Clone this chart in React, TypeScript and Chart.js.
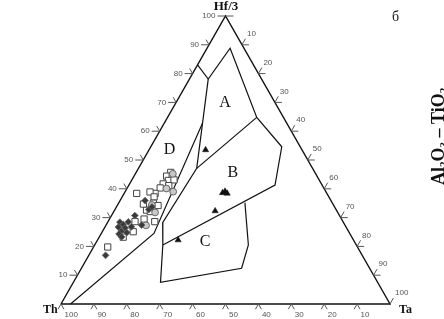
import React, { useEffect, useRef } from "react";
import { Chart, registerables } from "chart.js";

Chart.register(...registerables);

// Ternary compositions, percent: [Hf/3, Th, Ta]
const triangles = [
  [53.5, 29.3, 17.2],
  [38.6, 31.6, 29.8],
  [39.1, 30.6, 30.3],
  [38.4, 30.3, 31.3],
  [32.3, 37.0, 30.7],
  [22.2, 53.3, 24.5],
];

const squares = [
  [45.7, 43.8, 10.5], [44.4, 45.7, 9.9], [44.6, 43.9, 11.5], [42.9, 45.9, 11.2],
  [43.1, 44.1, 12.8], [41.7, 48.1, 10.2], [41.1, 46.7, 12.2], [40.3, 49.7, 10.0],
  [38.4, 52.2, 9.4], [38.9, 53.5, 7.6], [37.2, 53.1, 9.7], [35.0, 54.4, 10.6],
  [34.2, 53.4, 12.4], [32.6, 57.7, 9.7], [32.1, 56.8, 11.1], [28.6, 57.2, 14.2],
  [38.4, 57.8, 3.8], [29.5, 60.0, 10.5], [28.6, 63.2, 8.2], [25.1, 65.5, 9.4],
  [23.2, 69.5, 7.3], [19.8, 75.9, 4.3], [34.7, 57.6, 7.7],
];

const circles = [
  [45.2, 43.4, 11.4], [39.0, 46.4, 14.6], [31.8, 55.5, 12.7],
  [27.3, 60.5, 12.2], [34.4, 55.2, 10.4], [40.1, 47.9, 12.0],
];

const diamonds = [
  [35.9, 56.5, 7.6], [32.8, 56.9, 10.3], [30.7, 62.2, 7.1], [28.5, 65.3, 6.2],
  [28.4, 67.9, 3.7], [27.6, 67.3, 5.1], [26.7, 69.2, 4.1], [26.4, 67.3, 6.3],
  [25.3, 69.0, 5.7], [24.3, 70.2, 5.5], [24.8, 67.6, 7.6], [26.8, 65.2, 8.0],
  [23.3, 69.9, 6.8], [16.9, 78.0, 5.1], [27.4, 61.8, 10.8], [33.7, 55.5, 10.8],
];

// Field boundaries (polylines), [Hf/3, Th, Ta]
const boundaryOuter = [
  [83.0, 17.0, 0.0], [78.1, 16.2, 5.7], [88.8, 4.2, 7.0], [64.8, 8.1, 27.1],
  [54.6, 5.6, 39.8], [41.3, 14.3, 44.4], [20.5, 58.8, 20.7],
];
const boundaryAB = [[64.8, 8.1, 27.1], [47.1, 35.2, 17.7]];
const boundaryInner = [
  [78.1, 16.2, 5.7], [47.1, 35.2, 17.7], [28.2, 55.0, 16.8], [20.5, 58.8, 20.7],
  [7.5, 66.0, 26.5], [12.4, 38.9, 48.7], [20.5, 32.8, 46.7], [35.2, 26.5, 38.3],
];
const boundaryD = [[62.8, 25.6, 11.6], [24.5, 59.5, 16.0], [0.0, 97.1, 2.9]];
const frame = [[0, 100, 0], [0, 0, 100], [100, 0, 0], [0, 100, 0]];

const fieldLabels = ["A", "B", "C", "D"];
const fieldLabelPos = [
  [69.9, 15.2, 14.9],
  [45.4, 25.1, 29.5],
  [21.6, 45.4, 33.0],
  [53.7, 40.2, 6.1],
];

const tickValues = [10, 20, 30, 40, 50, 60, 70, 80, 90];

const toXY = (p: number[]) => ({ x: p[2] + p[0] / 2, y: p[0] });

const ternaryPlugin = {
  id: "ternaryDecor",
  afterDraw(chart: any) {
    const { ctx } = chart;
    const sx = chart.scales.x;
    const sy = chart.scales.y;
    const P = (hf: number, ta: number) => [sx.getPixelForValue(ta + hf / 2), sy.getPixelForValue(hf)];
    const tick = (hf: number, ta: number, dhf: number, dta: number, len: number) => {
      const [x0, y0] = P(hf, ta);
      const [x1, y1] = P(hf + dhf, ta + dta);
      const dx = x1 - x0, dy = y1 - y0;
      const n = Math.hypot(dx, dy);
      ctx.beginPath();
      ctx.moveTo(x0, y0);
      ctx.lineTo(x0 + (dx / n) * len, y0 + (dy / n) * len);
      ctx.stroke();
    };
    ctx.save();
    ctx.strokeStyle = "#555";
    ctx.lineWidth = 1;
    ctx.fillStyle = "#555";
    ctx.font = '8px "Liberation Sans", Arial, sans-serif';

    // left edge: Hf/3
    ctx.textAlign = "right";
    ctx.textBaseline = "middle";
    for (const v of tickValues) {
      tick(v, 0, 0, -1, 8);
      tick(v, 0, 1, -1, 6);
      const [x0, y0] = P(v, 0);
      ctx.fillText(String(v), x0 - 10, y0);
    }
    // apex
    tick(100, 0, 0, -1, 8);
    tick(100, 0, 0, 1, 8);
    {
      const [x0, y0] = P(100, 0);
      ctx.fillText("100", x0 - 10, y0);
    }
    // bottom: Th
    ctx.textAlign = "left";
    for (const v of [...tickValues, 100]) {
      const ta = 100 - v;
      tick(0, ta, -1, 0, 6);
      tick(0, ta, -1, 1, 6);
      const [x0, y0] = P(0, ta);
      ctx.fillText(String(v), x0 + 3.5, y0 + 11);
    }
    // right edge: Ta
    for (const v of [...tickValues, 100]) {
      const hf = 100 - v;
      if (v < 100) tick(hf, v, 0, 1, 7);
      tick(hf, v, 1, 0, 7);
      const [x0, y0] = P(hf, v);
      ctx.fillText(String(v), x0 + 5, y0 - 11);
    }

    // axis titles
    ctx.fillStyle = "#111";
    ctx.font = 'bold 13px "Liberation Serif", "Times New Roman", serif';
    ctx.textAlign = "center";
    ctx.textBaseline = "alphabetic";
    ctx.fillText("Hf/3", 226, 10);
    ctx.font = 'bold 12px "Liberation Serif", "Times New Roman", serif';
    ctx.textAlign = "left";
    ctx.fillText("Th", 43, 313);
    ctx.fillText("Ta", 399, 313);
    ctx.font = '14px "Liberation Serif", "Times New Roman", serif';
    ctx.textAlign = "center";
    ctx.fillText("б", 395.5, 21);

    // field labels
    ctx.font = '16px "Liberation Serif", "Times New Roman", serif';
    ctx.textBaseline = "middle";
    fieldLabels.forEach((t, i) => {
      const p = fieldLabelPos[i];
      const [x0, y0] = P(p[0], p[2]);
      ctx.fillText(t, x0, y0);
    });

    // rotated side caption (cut by the right edge)
    ctx.save();
    ctx.translate(443.5, 185);
    ctx.rotate(-Math.PI / 2);
    ctx.textAlign = "left";
    ctx.textBaseline = "alphabetic";
    const parts: [string, boolean][] = [["Al", false], ["2", true], ["O", false], ["3", true], [" – TiO", false], ["2", true]];
    let cx = 0;
    for (const [t, sub] of parts) {
      ctx.font = sub ? 'bold 11px "Liberation Serif", serif' : 'bold 18px "Liberation Serif", serif';
      ctx.fillText(t, cx, sub ? 3 : 0);
      cx += ctx.measureText(t).width;
    }
    ctx.restore();

    ctx.restore();
  },
};

export default function App() {
  const ref = useRef<HTMLCanvasElement | null>(null);
  useEffect(() => {
    if (!ref.current) return;
    const lineDs = (pts: number[][], w: number) => ({
      type: "scatter" as const,
      data: pts.map(toXY),
      showLine: true,
      borderColor: "#111",
      borderWidth: w,
      pointRadius: 0,
      fill: false,
      clip: false as any,
      order: 10,
    });
    const chart = new Chart(ref.current, {
      type: "scatter",
      data: {
        datasets: [
          lineDs(frame, 1.4),
          lineDs(boundaryOuter, 1.2),
          lineDs(boundaryAB, 1.2),
          lineDs(boundaryInner, 1.2),
          lineDs(boundaryD, 1.2),
          {
            data: squares.map(toXY),
            pointStyle: "rect",
            pointRadius: 4.4,
            backgroundColor: "#fff",
            borderColor: "#444",
            borderWidth: 1,
            clip: false as any,
            order: 3,
          },
          {
            data: circles.map(toXY),
            pointStyle: "circle",
            pointRadius: 3.4,
            backgroundColor: "#c8c8c8",
            borderColor: "#666",
            borderWidth: 1,
            clip: false as any,
            order: 2,
          },
          {
            data: diamonds.map(toXY),
            pointStyle: "rectRot",
            pointRadius: 3.4,
            backgroundColor: "#3a3a3a",
            borderColor: "#666",
            borderWidth: 0.8,
            clip: false as any,
            order: 1,
          },
          {
            data: triangles.map(toXY),
            pointStyle: "triangle",
            pointRadius: 3.6,
            backgroundColor: "#111",
            borderColor: "#111",
            borderWidth: 0.5,
            clip: false as any,
            order: 0,
          },
        ],
      },
      options: {
        animation: false,
        responsive: false,
        events: [],
        layout: { padding: { left: 61, right: 54, top: 16, bottom: 15 } },
        plugins: { legend: { display: false }, tooltip: { enabled: false } },
        scales: {
          x: { type: "linear", min: 0, max: 100, display: false },
          y: { type: "linear", min: 0, max: 100, display: false },
        },
      },
      plugins: [ternaryPlugin],
    });
    return () => chart.destroy();
  }, []);
  return (
    <div style={{ position: "absolute", left: 0, top: 0, width: 444, height: 319, background: "#fff" }}>
      <canvas ref={ref} width={444} height={319} style={{ display: "block" }} />
    </div>
  );
}
